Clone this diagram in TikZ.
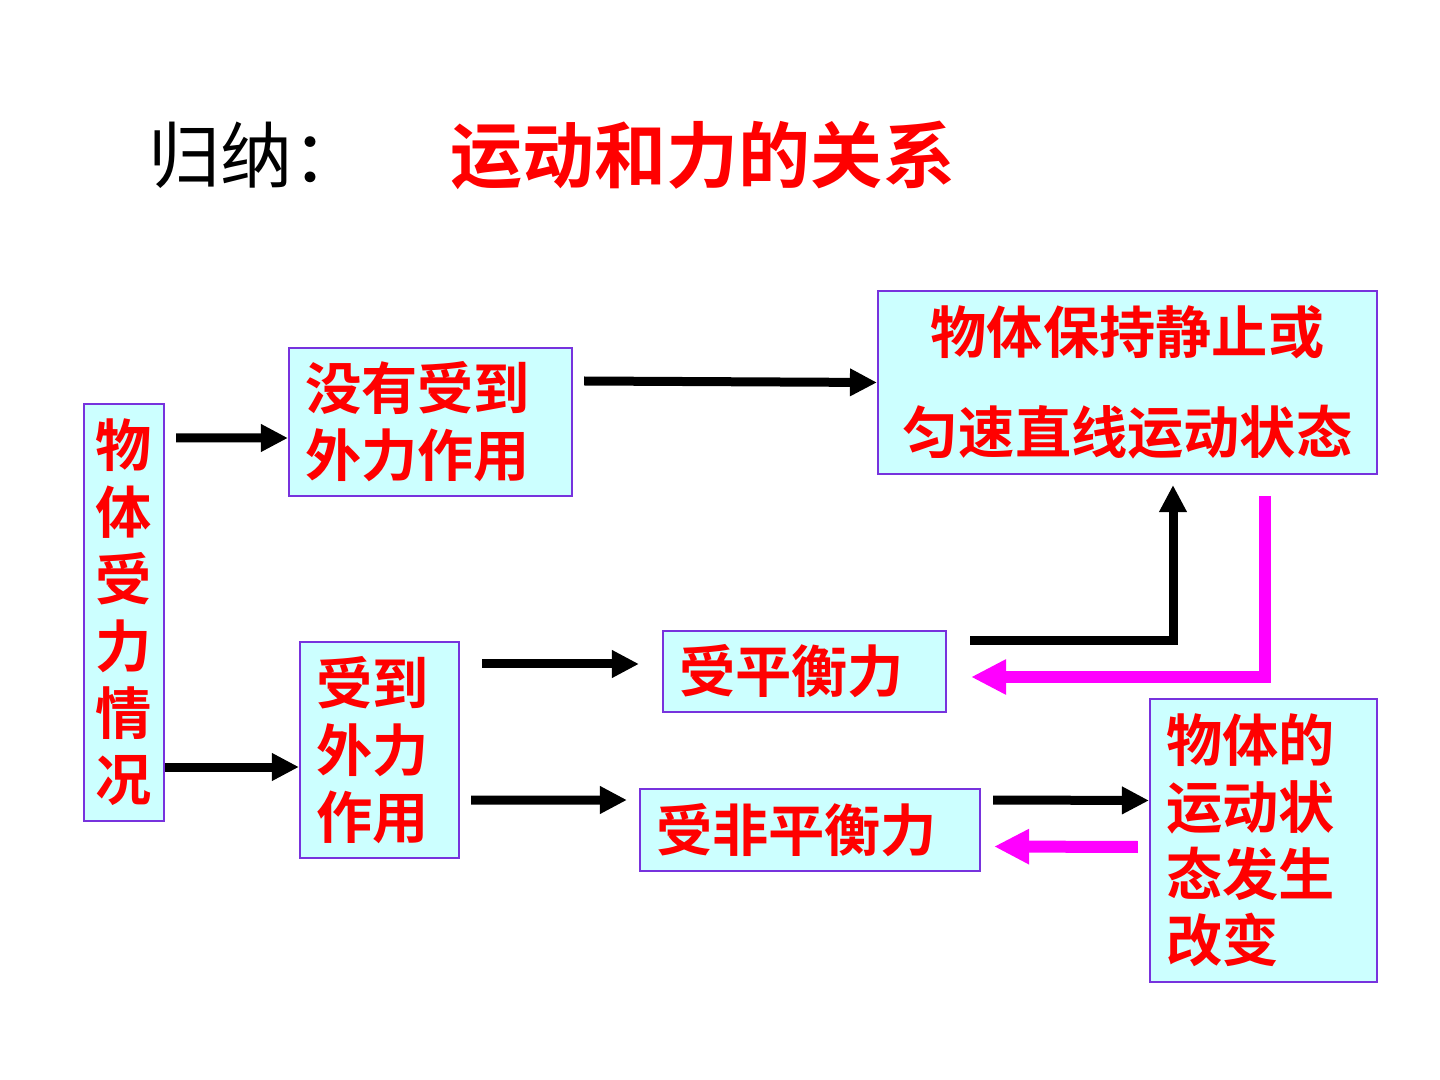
\documentclass[tikz,border=0pt]{standalone}
\usepackage{fontspec}
\newfontfamily\cjk{Noto Sans CJK SC}[BoldFont={Noto Sans CJK SC Bold}]
\usetikzlibrary{arrows.meta}
\definecolor{boxfill}{HTML}{CCFFFF}
\definecolor{boxline}{HTML}{7733DD}
\definecolor{pinkarrow}{HTML}{FF00FF}
\begin{document}
\begin{tikzpicture}[box/.style={draw=boxline,fill=boxfill,line width=0.6pt,text=red,align=left,inner xsep=0.16cm,inner ysep=0pt,font=\cjk\bfseries\fontsize{16}{19}\selectfont},
fwd/.style={line width=0.09cm,-{Triangle[length=0.27cm,width=0.26cm]}},
back/.style={pinkarrow,line width=0.12cm,-{Triangle[length=0.35cm,width=0.33cm]}}]
\useasboundingbox (0,0) rectangle (14.4,-10.8);
\node[anchor=west,inner sep=0pt,font=\cjk\fontsize{20.5}{24}\selectfont] (sum) at (1.48,-1.55) {归纳：};
\node[anchor=west,inner sep=0pt,text=red,font=\cjk\bfseries\fontsize{20.5}{24}\selectfont] (topic) at (4.50,-1.55) {运动和力的关系};
\node[box,align=center,inner xsep=0.1cm,text width=0.6cm,minimum height=4.17cm] (body) at (1.24,-6.125) {物\\体\\受\\力\\情\\况};
\node[box,text width=2.51cm,minimum height=1.48cm] (nofree) at (4.305,-4.22) {没有受到\\外力作用};
\node[box,align=center,text width=4.67cm,minimum height=1.83cm,font=\cjk\bfseries\fontsize{16}{28.5}\selectfont] (keep) at (11.275,-3.825) {物体保持静止或\\匀速直线运动状态};
\node[box,text width=1.27cm,minimum height=2.16cm] (withf) at (3.795,-7.5) {受到\\外力\\作用};
\node[box,text width=2.51cm,minimum height=0.81cm] (bal) at (8.045,-6.715) {受平衡力};
\node[box,text width=3.08cm,minimum height=0.82cm] (unbal) at (8.10,-8.30) {受非平衡力};
\node[box,text width=1.95cm,minimum height=2.83cm] (change) at (12.635,-8.405) {物体的\\运动状\\态发生\\改变};
% black arrows
\draw[fwd] ([shift={(0.11,1.745)}]body.east) -- ([yshift=-0.16cm]nofree.west);
\draw[fwd] ([yshift=-1.545cm]body.east) -- ([yshift=-0.17cm]withf.west);
\draw[fwd] ([shift={(0.11,0.41)}]nofree.east) -- (keep.west);
\draw[fwd] ([shift={(0.22,0.86)}]withf.east) -- ([shift={(-0.23,0.075)}]bal.west);
\draw[fwd] ([shift={(0.11,-0.5)}]withf.east) -- ([shift={(-0.12,0.3)}]unbal.west);
\draw[fwd] ([shift={(0.23,0.305)}]bal.east) -| ([shift={(0.455,-0.1)}]keep.south);
\draw[fwd] ([shift={(0.12,0.3)}]unbal.east) -- ([yshift=0.4cm]change.west);
% pink arrows
\draw[back] ([shift={(1.375,-0.21)}]keep.south) |- ([shift={(0.24,-0.055)}]bal.east);
\draw[back] ([shift={(-0.11,-0.065)}]change.west) -- ([shift={(0.13,-0.165)}]unbal.east);
\end{tikzpicture}
\end{document}
